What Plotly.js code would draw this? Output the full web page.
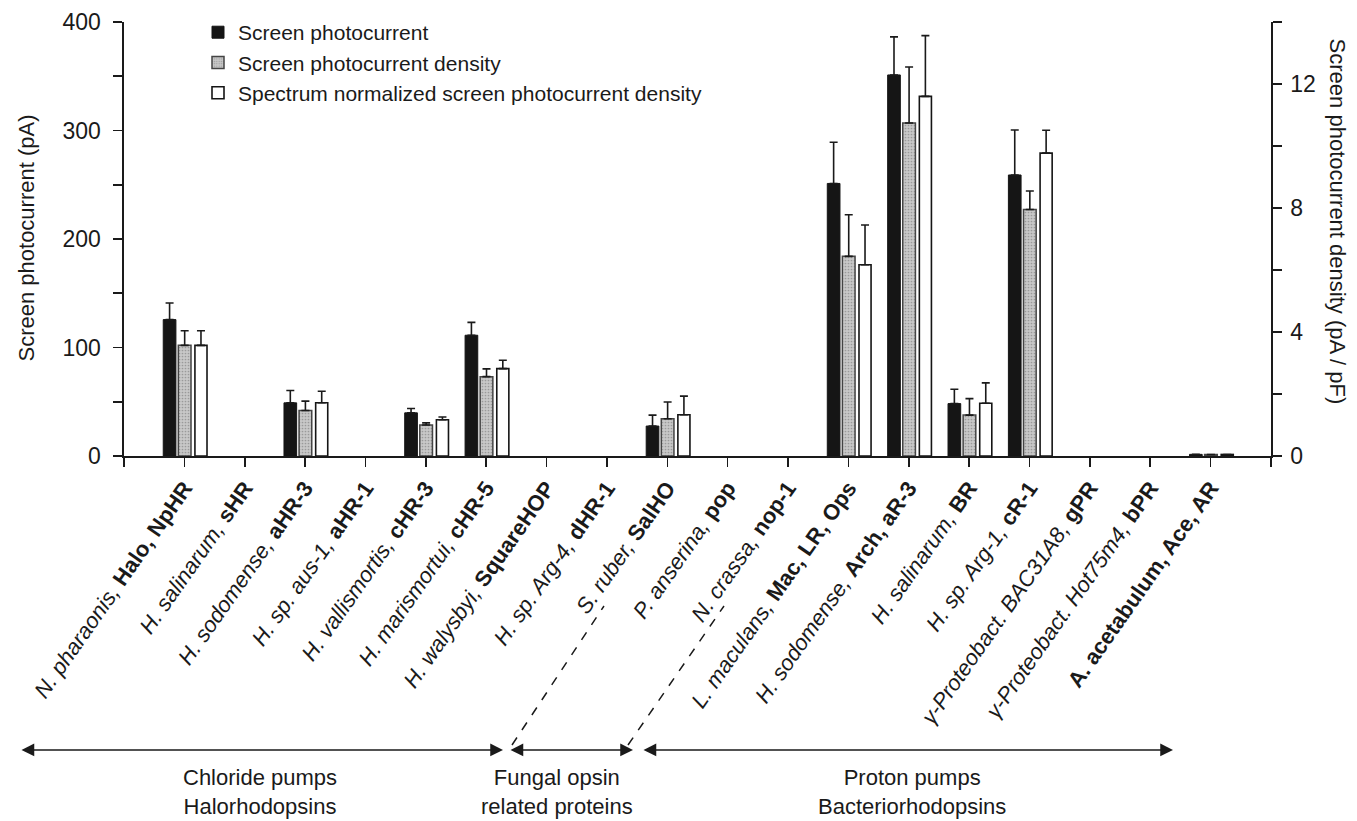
<!DOCTYPE html>
<html>
<head>
<meta charset="utf-8">
<script src="https://cdn.plot.ly/plotly-3.0.1.min.js"></script>
<style>html,body{margin:0;padding:0;background:#fff;}#chart{width:1357px;height:821px;}</style>
</head>
<body>
<div id="chart"></div>
<script>
// ---- data ----
const categories = [
  "<i>N. pharaonis,</i> <b>Halo, NpHR</b>",
  "<i>H. salinarum,</i> <b>sHR</b>",
  "<i>H. sodomense,</i> <b>aHR-3</b>",
  "<i>H. sp. aus-1,</i> <b>aHR-1</b>",
  "<i>H. vallismortis,</i> <b>cHR-3</b>",
  "<i>H. marismortui,</i> <b>cHR-5</b>",
  "<i>H. walysbyi,</i> <b>SquareHOP</b>",
  "<i>H. sp. Arg-4,</i> <b>dHR-1</b>",
  "<i>S. ruber,</i> <b>SalHO</b>",
  "<i>P. anserina,</i> <b>pop</b>",
  "<i>N. crassa,</i> <b>nop-1</b>",
  "<i>L. maculans,</i> <b>Mac, LR, Ops</b>",
  "<i>H. sodomense,</i> <b>Arch, aR-3</b>",
  "<i>H. salinarum,</i> <b>BR</b>",
  "<i>H. sp. Arg-1,</i> <b>cR-1</b>",
  "<i>γ-Proteobact. BAC31A8,</i> <b>gPR</b>",
  "<i>γ-Proteobact. Hot75m4,</i> <b>bPR</b>",
  "<b>A. acetabulum, Ace, AR</b>"
];
// Screen photocurrent (pA), left axis
const photocurrent    = [125.7, null, 49.0, null, 39.8, 111.3, null, null, 27.6, null, null, 251.2, 351.2, 48.3, 259.0, null, null, 1.5];
const photocurrentErr = [15.3,  null, 11.4, null, 4.0,  11.9,  null, null, 10.1, null, null, 38.0,  35.1,  13.2, 41.4,  null, null, null];
// Screen photocurrent density (pA/pF), right axis
const density         = [3.57, null, 1.47, null, 1.00, 2.56, null, null, 1.20, null, null, 6.44, 10.74, 1.32, 7.95, null, null, 0.05];
const densityErr      = [0.47, null, 0.30, null, 0.07, 0.25, null, null, 0.54, null, null, 1.34, 1.81,  0.53, 0.60, null, null, null];
// Spectrum normalized screen photocurrent density (pA/pF), right axis
const normDensity     = [3.57, null, 1.72, null, 1.17, 2.82, null, null, 1.33, null, null, 6.17, 11.60, 1.70, 9.77, null, null, 0.05];
const normDensityErr  = [0.47, null, 0.37, null, 0.09, 0.27, null, null, 0.60, null, null, 1.28, 1.96,  0.66, 0.74, null, null, null];

const seriesNames = ["Screen photocurrent", "Screen photocurrent density", "Spectrum normalized screen photocurrent density"];
const leftTitle = "Screen photocurrent (pA)";
const rightTitle = "Screen photocurrent density (pA / pF)";
const groupLabels = ["Chloride pumps<br>Halorhodopsins", "Fungal opsin<br>related proteins", "Proton pumps<br>Bacteriorhodopsins"];

// ---- build ----
const xIdx = categories.map((_, i) => i);
const noDown = categories.map(() => 0);
const ink = '#1a1a1a';

function errBar(arr) {
  return {type: 'data', symmetric: false, array: arr, arrayminus: noDown,
          color: ink, thickness: 1.6, width: 4};
}

const traces = [
  {type: 'bar', name: seriesNames[0], x: xIdx, y: photocurrent, yaxis: 'y',
   width: 0.21, offset: -0.35, legendgroup: 'a',
   marker: {color: '#151515', line: {color: '#151515', width: 1}},
   error_y: errBar(photocurrentErr)},
  {type: 'bar', name: seriesNames[1], x: xIdx, y: density, yaxis: 'y2',
   width: 0.21, offset: -0.10, legendgroup: 'b',
   marker: {color: '#bdbdbd', line: {color: '#444444', width: 1.5},
            pattern: {shape: '.', fgcolor: '#9a9a9a', bgcolor: '#c8c8c8', size: 3, solidity: 0.25, fillmode: 'replace'}},
   error_y: errBar(densityErr)},
  {type: 'bar', name: seriesNames[2], x: xIdx, y: normDensity, yaxis: 'y2',
   width: 0.20, offset: 0.175, legendgroup: 'c',
   marker: {color: '#ffffff', line: {color: '#151515', width: 1.6}},
   error_y: errBar(normDensityErr)}
];

const tickvals = [-1].concat(xIdx, [18]);
const ticktext = [''].concat(categories, ['']);

const W = 1357, H = 821, L = 124, R = 86, T = 19, B = 365;
const pw = W - L - R, ph = H - T - B;
const px = v => (v - L) / pw;          // page px -> paper x
const py = v => (H - B - v) / ph;      // page px -> paper y

const axisCommon = {
  showline: true, linewidth: 1.6, linecolor: ink,
  ticks: 'outside', ticklen: 9, tickwidth: 1.6, tickcolor: ink,
  showgrid: false, zeroline: false, fixedrange: true
};

const arrowY = py(752);
function rangeArrow(headPx, tailPx) {
  return {xref: 'paper', yref: 'paper', x: px(headPx), y: arrowY,
          axref: 'pixel', ayref: 'pixel', ax: tailPx - headPx, ay: 0,
          text: '', showarrow: true, arrowside: 'end+start',
          arrowhead: 2, startarrowhead: 2, arrowsize: 1.7, startarrowsize: 1.7,
          arrowwidth: 1.5, arrowcolor: ink};
}

const layout = {
  width: W, height: H,
  margin: {l: L, r: R, t: T, b: B, pad: 0},
  paper_bgcolor: '#ffffff', plot_bgcolor: '#ffffff',
  font: {family: 'Liberation Sans, Arial, sans-serif', color: ink, size: 22},
  barmode: 'overlay',
  showlegend: true,
  legend: {x: px(198), y: py(9), xanchor: 'left', yanchor: 'top',
           bgcolor: 'rgba(0,0,0,0)', font: {size: 21}, tracegroupgap: 2,
           traceorder: 'normal'},
  xaxis: Object.assign({}, axisCommon, {
    range: [-1, 18], tickmode: 'array', tickvals: tickvals, ticktext: ticktext,
    tickangle: -55, tickfont: {size: 22}
  }),
  yaxis: Object.assign({}, axisCommon, {
    range: [0, 400], tick0: 0, dtick: 100, tickfont: {size: 23},
    ticklabelstandoff: 8,
    minor: {dtick: 50, tick0: 0, ticks: 'outside', ticklen: 9, tickwidth: 1.6, tickcolor: ink, showgrid: false}
  }),
  yaxis2: Object.assign({}, axisCommon, {
    overlaying: 'y', side: 'right', anchor: 'x',
    range: [0, 14], tick0: 0, dtick: 4, tickfont: {size: 23},
    ticklabelstandoff: 4,
    minor: {dtick: 2, tick0: 0, ticks: 'outside', ticklen: 9, tickwidth: 1.6, tickcolor: ink, showgrid: false}
  }),
  annotations: [
    {xref: 'paper', yref: 'paper', x: px(27), y: py(237), text: leftTitle, textangle: -90,
     showarrow: false, xanchor: 'center', yanchor: 'middle', font: {size: 22}},
    {xref: 'paper', yref: 'paper', x: px(1337), y: py(220), text: rightTitle, textangle: 90,
     showarrow: false, xanchor: 'center', yanchor: 'middle', font: {size: 22}},
    rangeArrow(503, 20),
    rangeArrow(633, 509),
    rangeArrow(1173, 642),
    {xref: 'paper', yref: 'paper', x: px(260), y: py(794), text: groupLabels[0],
     showarrow: false, xanchor: 'center', yanchor: 'middle', font: {size: 22}},
    {xref: 'paper', yref: 'paper', x: px(557), y: py(794), text: groupLabels[1],
     showarrow: false, xanchor: 'center', yanchor: 'middle', font: {size: 22}},
    {xref: 'paper', yref: 'paper', x: px(912), y: py(794), text: groupLabels[2],
     showarrow: false, xanchor: 'center', yanchor: 'middle', font: {size: 22}}
  ],
  shapes: [
    {type: 'line', xref: 'paper', yref: 'paper', x0: px(512), y0: py(747), x1: px(604), y1: py(607),
     line: {color: ink, width: 1.5, dash: 'dash'}},
    {type: 'line', xref: 'paper', yref: 'paper', x0: px(628), y0: py(747), x1: px(724), y1: py(607),
     line: {color: ink, width: 1.5, dash: 'dash'}}
  ]
};

Plotly.newPlot('chart', traces, layout, {displayModeBar: false, staticPlot: true});
</script>
</body>
</html>
